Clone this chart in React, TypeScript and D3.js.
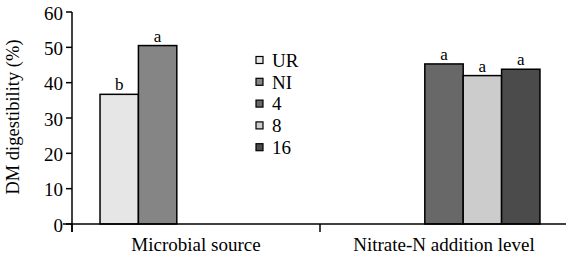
import React from 'react'
import * as d3 from 'd3'

const categories = ['Microbial source', 'Nitrate-N addition level']
const seriesNames = ['UR', 'NI', '4', '8', '16']
const seriesColors = ['#e6e6e6', '#858585', '#686868', '#cccccc', '#4b4b4b']
// one row per category, one value per series (null = no bar)
const values: (number | null)[][] = [
  [36.7, 50.5, null, null, null],
  [null, null, 45.3, 42.0, 43.8],
]
const letters: (string | null)[][] = [
  ['b', 'a', null, null, null],
  [null, null, 'a', 'a', 'a'],
]
const yTicks = [0, 10, 20, 30, 40, 50, 60]

const W = 566
const H = 258
const font = "'Liberation Serif', 'Times New Roman', Times, 'DejaVu Serif', serif"

export default function App() {
  const x = d3.scaleBand().domain(categories).range([72, 568])
  const inner = d3.scaleBand().domain(seriesNames).range([0, x.bandwidth()]).paddingOuter(0.73)
  const y = d3.scaleLinear().domain([0, 60]).range([224, 12])

  return (
    <div style={{ position: 'absolute', left: 0, top: 0 }}>
      <svg width={W} height={H} style={{ display: 'block', background: '#fff', fontFamily: font }}>
        {/* bars */}
        {categories.map((c, ci) =>
          seriesNames.map((s, si) => {
            const v = values[ci][si]
            if (v == null) return null
            const bx = (x(c) as number) + (inner(s) as number)
            return (
              <g key={c + s}>
                <rect x={bx} y={y(v)} width={inner.bandwidth()} height={y(0) - y(v)}
                  fill={seriesColors[si]} stroke="#000" strokeWidth={1.5} />
                {letters[ci][si] && (
                  <text x={bx + inner.bandwidth() / 2} y={y(v) - 4} textAnchor="middle" fontSize={17}>
                    {letters[ci][si]}
                  </text>
                )}
              </g>
            )
          })
        )}

        {/* y axis */}
        <line x1={72} x2={72} y1={y(60)} y2={232} stroke="#000" strokeWidth={1.5} />
        {yTicks.map(t => (
          <g key={t}>
            <line x1={66} x2={72} y1={y(t)} y2={y(t)} stroke="#000" strokeWidth={1.5} />
            <text x={63} y={y(t)} dy="0.4em" textAnchor="end" fontSize={19}>{t}</text>
          </g>
        ))}
        <text transform={`translate(19,${y(30) - 1}) rotate(-90)`} textAnchor="middle" fontSize={18.5}>
          DM digestibility (%)
        </text>

        {/* x axis */}
        <line x1={63} x2={W} y1={y(0)} y2={y(0)} stroke="#000" strokeWidth={1.5} />
        {[72, (x(categories[1]) as number)].map(t => (
          <line key={t} x1={t} x2={t} y1={y(0)} y2={232} stroke="#000" strokeWidth={1.5} />
        ))}
        {categories.map(c => (
          <text key={c} x={(x(c) as number) + x.bandwidth() / 2} y={251} textAnchor="middle" fontSize={19}>
            {c}
          </text>
        ))}

        {/* legend */}
        {seriesNames.map((s, i) => (
          <g key={s} transform={`translate(256,${60 + i * 21.8})`}>
            <rect x={0} y={-3.5} width={7} height={7} fill={seriesColors[i]} stroke="#000" strokeWidth={1.2} />
            <text x={16} y={0} dy="0.36em" fontSize={19}>{s}</text>
          </g>
        ))}
      </svg>
    </div>
  )
}
